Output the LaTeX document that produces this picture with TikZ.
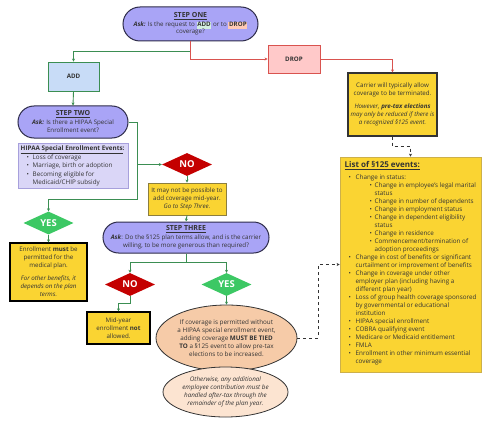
\documentclass[tikz,border=0pt]{standalone}
\usepackage{fontspec}
\setmainfont{Open Sans}
\usetikzlibrary{shapes.geometric,arrows.meta}
\definecolor{pill}{HTML}{A9A4F6}
\definecolor{pilldraw}{HTML}{2E2C4A}
\definecolor{lav}{HTML}{DAD6F7}
\definecolor{lavdraw}{HTML}{A7A0DC}
\definecolor{addfill}{HTML}{C8DCF7}
\definecolor{gline}{HTML}{3B8E52}
\definecolor{rline}{HTML}{D9534F}
\definecolor{dropfill}{HTML}{FFC9C9}
\definecolor{yel}{HTML}{FAD432}
\definecolor{yeldraw}{HTML}{CDB04A}
\definecolor{olive}{HTML}{8C7E3E}
\definecolor{gdia}{HTML}{3CC864}
\definecolor{rdia}{HTML}{C40000}
\definecolor{peach}{HTML}{F6CBA8}
\definecolor{peachl}{HTML}{FCE4D1}
\definecolor{hladd}{HTML}{D3EEE0}
\definecolor{hldrop}{HTML}{FFC9B5}
\definecolor{txt}{HTML}{333333}
\newcommand{\fs}{\fontsize{6.2}{8}\selectfont}
\newcommand{\fh}{\fontsize{7}{8}\selectfont\bfseries}
\newcommand{\hlbox}[2]{{\setlength{\fboxsep}{0.7pt}\colorbox{#1}{\vphantom{Ay}#2}}}
\newcommand{\bA}{\hspace*{4pt}\makebox[7pt][l]{•}}
\newcommand{\bB}{\hspace*{25pt}\makebox[5pt][l]{•}}
\newcommand{\cA}{\hspace*{11pt}}
\newcommand{\cB}{\hspace*{30pt}}
\newcommand{\hb}{\hspace*{6pt}\makebox[6pt][l]{•}}
\newcommand{\hc}{\hspace*{12pt}}
\tikzset{
  pillst/.style={draw=pilldraw, fill=pill, line width=1pt, inner sep=0pt, align=center, font=\fs, text=txt},
  boxst/.style={rectangle, inner sep=0pt, align=center, font=\fs, text=txt},
  dia/.style={diamond, aspect=2.2, inner sep=0pt, minimum width=50pt, minimum height=23pt, font=\fontsize{9.5}{10}\selectfont\bfseries, text=white},
  garrow/.style={draw=gline, line width=0.9pt, -{Stealth[length=3pt,width=3pt]}},
  gline/.style={draw=gline, line width=0.9pt},
  rarrow/.style={draw=rline, line width=0.9pt, -{Stealth[length=3pt,width=3pt]}},
  darrow/.style={draw=txt, line width=0.9pt, dashed, dash pattern=on 3pt off 3pt, -{Stealth[length=3pt,width=3pt]}},
}
\begin{document}
\begin{tikzpicture}[x=1pt,y=-1pt]
\useasboundingbox (0,0) rectangle (500,425);
\fill[white] (0,0) rectangle (500,425);

% STEP ONE
\node[pillst, rounded corners=17pt, minimum width=135pt, minimum height=34pt] (s1) at (190.5,24)
  {{\fh\underline{STEP ONE}}\\[1pt]
   \textbf{\textit{Ask:}} Is the request to \hlbox{hladd}{\textbf{ADD}} or to \hlbox{hldrop}{\textbf{DROP}}\\[-1pt]
   coverage?};

\node[boxst, draw=gline, line width=0.9pt, fill=addfill, minimum width=51pt, minimum height=29pt, font=\fs\bfseries] (add) at (73.5,76.5) {ADD};
\node[boxst, draw=rline, line width=0.9pt, fill=dropfill, minimum width=52pt, minimum height=28pt, font=\fs\bfseries] (drop) at (294,59) {DROP};

\node[boxst, draw=txt, line width=1.1pt, fill=yel, minimum width=89pt, minimum height=63pt] (carrier) at (392.5,104.5)
  {Carrier will typically allow\\
   coverage to be terminated.\\[5pt]
   \textit{However, \textbf{pre-tax elections}}\\
   \textit{may only be reduced if there is}\\
   \textit{a recognized §125 event.}};

% STEP TWO
\node[pillst, rounded corners=16pt, minimum width=110pt, minimum height=32pt] (s2) at (73,122)
  {{\fh\underline{STEP TWO}}\\[1pt]
   \textbf{\textit{Ask:}} Is there a HIPAA Special\\
   Enrollment event?};

\node[boxst, draw=lavdraw, line width=0.8pt, fill=lav, minimum width=110pt, minimum height=45pt] (hipaa) at (73,165.5) {};
\node[anchor=north west, inner sep=0pt, align=left, font=\fontsize{6.3}{8.1}\selectfont, text=txt] (hipaat) at (20.5,145.5)
  {{\bfseries\underline{HIPAA Special Enrollment Events}:}\\
   \hb Loss of coverage\\
   \hb Marriage, birth or adoption\\
   \hb Becoming eligible for\\
   \hc Medicaid/CHIP subsidy};

\node[dia, fill=rdia] (no1) at (187,164.5) {NO};
\node[boxst, draw=olive, line width=0.9pt, fill=yel, minimum width=78pt, minimum height=32pt] (itmay) at (187,199)
  {It may not be possible to\\
   add coverage mid-year.\\
   \textit{Go to Step Three.}};

\node[dia, fill=gdia] (yes1) at (48.5,223) {YES};
\node[boxst, draw=black, line width=1.2pt, fill=yel, minimum width=77pt, minimum height=58pt] (enroll) at (48.5,272)
  {Enrollment \textbf{must} be\\
   permitted for the\\
   medical plan.\\[5pt]
   \textit{For other benefits, it}\\
   \textit{depends on the plan}\\
   \textit{terms.}};

% STEP THREE
\node[pillst, rounded corners=15.5pt, minimum width=166pt, minimum height=31pt] (s3) at (186,237.5)
  {{\fh\underline{STEP THREE}}\\[1pt]
   \textbf{\textit{Ask}}: Do the §125 plan terms allow, and is the carrier\\
   willing, to be more generous than required?};

\node[dia, fill=rdia] (no2) at (130,284.5) {NO};
\node[dia, fill=gdia] (yes2) at (226.5,284.5) {YES};

\node[boxst, draw=black, line width=1.2pt, fill=yel, minimum width=63pt, minimum height=32pt] (mid) at (118.5,328)
  {Mid-year\\
   enrollment \textbf{not}\\
   allowed.};

\node[ellipse, draw=txt, line width=0.8pt, fill=peach, inner sep=0pt, minimum width=141pt, minimum height=66pt, align=center, font=\fontsize{6.3}{8}\selectfont, text=txt] (ell1) at (226.5,338)
  {If coverage is permitted without\\
   a HIPAA special enrollment event,\\
   adding coverage \textbf{MUST BE TIED}\\
   \textbf{TO} a §125 event to allow pre-tax\\
   elections to be increased.};
\node[ellipse, draw=txt, line width=0.8pt, fill=peachl, inner sep=0pt, minimum width=125pt, minimum height=50pt, align=center, font=\fontsize{6.3}{8.2}\selectfont\itshape, text=txt] (ell2) at (225.5,392)
  {Otherwise, any additional\\
   employee contribution must be\\
   handled after-tax through the\\
   remainder of the plan year.};

% list of 125 events
\node[boxst, draw=yeldraw, line width=0.8pt, fill=yel, minimum width=141pt, minimum height=215pt] (list) at (410.5,264.5) {};
\node[anchor=north west, inner sep=0pt, align=left, font=\fontsize{6.3}{8}\selectfont, text=txt] (listt) at (344.5,161.5)
  {{\fontsize{8}{8}\selectfont\bfseries\underline{List of §125 events:}}\\[4pt]
   \bA Change in status:\\
   \bB Change in employee's legal marital\\
   \cB status\\
   \bB Change in number of dependents\\
   \bB Change in employment status\\
   \bB Change in dependent eligibility\\
   \cB status\\
   \bB Change in residence\\
   \bB Commencement/termination of\\
   \cB adoption proceedings\\
   \bA Change in cost of benefits or significant\\
   \cA curtailment or improvement of benefits\\
   \bA Change in coverage under other\\
   \cA employer plan (including having a\\
   \cA different plan year)\\
   \bA Loss of group health coverage sponsored\\
   \cA by governmental or educational\\
   \cA institution\\
   \bA HIPAA special enrollment\\
   \bA COBRA qualifying event\\
   \bA Medicare or Medicaid entitlement\\
   \bA FMLA\\
   \bA Enrollment in other minimum essential\\
   \cA coverage};

% connectors
\coordinate (j1) at (190.5,51);
\coordinate (j2) at (190.5,59);
\draw[garrow] (s1.south) -- (j1) -| (add.north);
\draw[rarrow] (s1.south) -- (j2) -- (drop.west);
\draw[rarrow] (drop.east) -| (carrier.north);
\draw[darrow] (carrier.south) -- ++(0,10) -| (list.north);
\draw[garrow] (add.south) -- (s2.north);
\coordinate (k1) at (137,199);
\coordinate (k2) at (137,164.5);
\draw[garrow] (s2.east) -| (k1) -| (yes1.north);
\draw[garrow] (k2) -- (no1.west);
\draw[garrow] (no1.south) -- (itmay.north);
\draw[garrow] (itmay.south) -- (s3.north);
\draw[garrow] (yes1.south) -- (enroll.north);
\coordinate (k3) at (186,262);
\draw[garrow] (s3.south) -- (k3) -| (no2.north);
\draw[garrow] (k3) -| (yes2.north);
\coordinate (k4) at (130,303);
\draw[garrow] (no2.south) -- (k4) -| (mid.north);
\draw[garrow] (yes2.south) -- (ell1.north);
\draw[darrow] (ell1.east) -- ++(21,0) |- (list.west);
\end{tikzpicture}
\end{document}
